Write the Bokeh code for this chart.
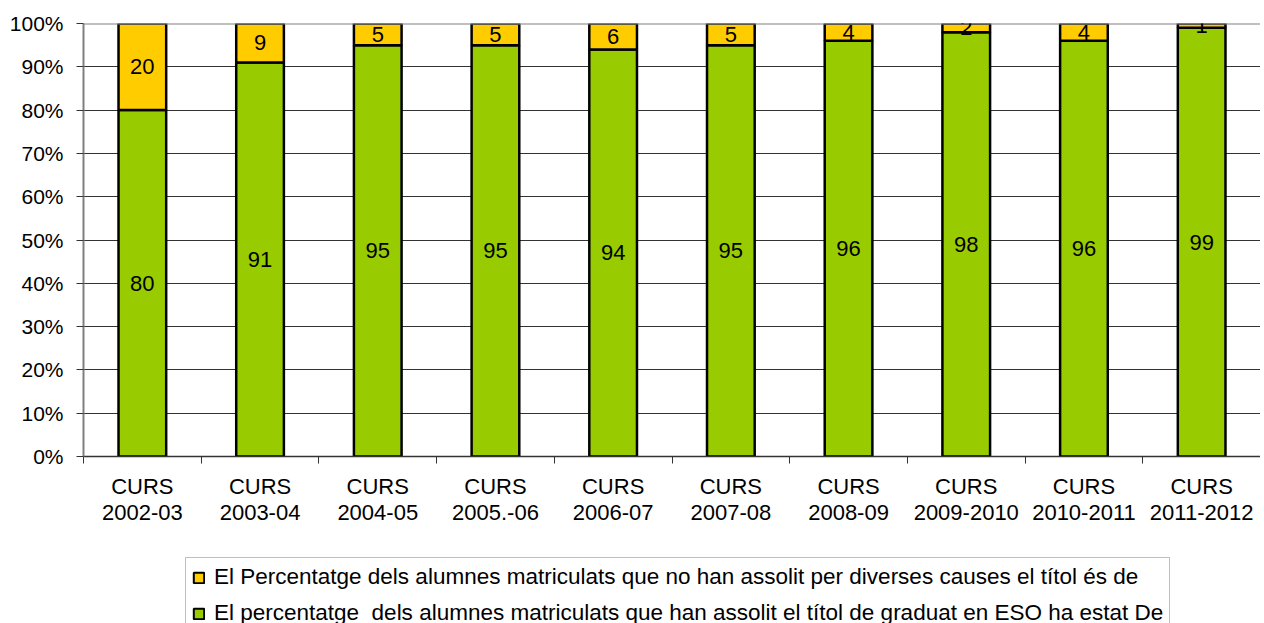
from bokeh.plotting import figure
from bokeh.layouts import column
from bokeh.models import (ColumnDataSource, Range1d, LinearAxis, Span,
                          FixedTicker, PrintfTickFormatter, Legend, LegendItem, LabelSet)
from bokeh.core.properties import value
from bokeh.embed import file_html
from bokeh.resources import INLINE

categories = ["CURS\n2002-03", "CURS\n2003-04", "CURS\n2004-05", "CURS\n2005.-06", "CURS\n2006-07",
              "CURS\n2007-08", "CURS\n2008-09", "CURS\n2009-2010", "CURS\n2010-2011", "CURS\n2011-2012"]
graduats = [80, 91, 95, 95, 94, 95, 96, 98, 96, 99]
no_graduats = [20, 9, 5, 5, 6, 5, 4, 2, 4, 1]
y_ticks = [0, 10, 20, 30, 40, 50, 60, 70, 80, 90, 100]
label_no = "El Percentatge dels alumnes matriculats que no han assolit per diverses causes el títol és de"
label_si = "El percentatge  dels alumnes matriculats que han assolit el títol de graduat en ESO ha estat De"

FONT = "Liberation Sans"
GREEN = "#99CC00"
YELLOW = "#FFCC00"

n = len(categories)
centers = [i + 0.5 for i in range(n)]
bounds = list(range(n + 1))

src = ColumnDataSource(dict(
    x=centers,
    graduats=graduats,
    no_graduats=no_graduats,
    g_mid=[g / 2 for g in graduats],
    n_mid=[g + k / 2 for g, k in zip(graduats, no_graduats)],
    g_txt=[str(v) for v in graduats],
    n_txt=[str(v) for v in no_graduats],
))

W = 1260
p = figure(x_range=Range1d(0, n), y_range=Range1d(0, 100),
           width=W, height=531, output_backend="svg", toolbar_location=None,
           x_axis_location=None, min_border_left=83, min_border_top=23,
           min_border_right=0, min_border_bottom=75)

p.outline_line_color = None
p.background_fill_color = "white"
p.border_fill_color = "white"

# y axis
p.yaxis.ticker = FixedTicker(ticks=y_ticks)
p.yaxis.formatter = PrintfTickFormatter(format="%d%%")
p.yaxis.major_label_text_font = FONT
p.yaxis.major_label_text_font_size = "21px"
p.yaxis.major_label_text_color = "black"
p.yaxis.axis_line_color = "#808080"
p.yaxis.axis_line_width = 2
p.yaxis.major_tick_out = 7
p.yaxis.major_tick_in = 0
p.yaxis.major_tick_line_color = "#333333"
p.yaxis.minor_tick_line_color = None
p.yaxis.major_label_standoff = 13

p.xgrid.grid_line_color = None
p.ygrid.ticker = FixedTicker(ticks=y_ticks[1:-1])
p.ygrid.grid_line_color = "#333333"
p.ygrid.grid_line_width = 1

p.add_layout(Span(location=y_ticks[-1], dimension="width", line_color="#808080", line_width=2))

# category axis: labels at centres, tick marks at boundaries
cat_axis = LinearAxis(ticker=FixedTicker(ticks=centers, minor_ticks=bounds),
                      major_label_overrides={c: lab for c, lab in zip(centers, categories)},
                      major_tick_line_color=None, major_tick_out=7, major_tick_in=0,
                      minor_tick_line_color="#333333", minor_tick_out=7, minor_tick_in=0,
                      axis_line_color="#333333", axis_line_width=1.5,
                      major_label_text_font=FONT, major_label_text_font_size="22px",
                      major_label_text_color="black", major_label_text_line_height=1.05,
                      major_label_standoff=10)
p.add_layout(cat_axis, "below")

rs = p.vbar_stack(["graduats", "no_graduats"], x="x", width=0.405, source=src,
                  fill_color=[GREEN, YELLOW], line_color="black", line_width=2.5)

for ycol, tcol in (("g_mid", "g_txt"), ("n_mid", "n_txt")):
    p.add_layout(LabelSet(x="x", y=ycol, text=tcol, source=src, text_align="center",
                          text_baseline="middle", text_font=value(FONT), text_font_size="22px",
                          text_color="black"))

# legend figure below the chart
p2 = figure(x_range=Range1d(0, 1), y_range=Range1d(0, 1), width=W, height=92,
            output_backend="svg", toolbar_location=None,
            x_axis_location=None, y_axis_location=None,
            min_border=0, min_border_left=0, min_border_right=0, min_border_top=0, min_border_bottom=0)
p2.outline_line_color = None
p2.grid.grid_line_color = None
p2.background_fill_color = "white"
p2.border_fill_color = "white"

# hidden renderers that only supply the legend swatches
r_no = p2.vbar(x="x", top="no_graduats", width=0.1, source=src, fill_color=YELLOW,
               line_color="black", line_width=2, visible=False)
r_si = p2.vbar(x="x", top="graduats", width=0.1, source=src, fill_color=GREEN,
               line_color="black", line_width=2, visible=False)

legend = Legend(items=[LegendItem(label=label_no, renderers=[r_no]),
                       LegendItem(label=label_si, renderers=[r_si])],
                location=(102, -10), orientation="vertical",
                label_text_font=FONT, label_text_font_size="22.5px", label_text_color="black",
                label_height=20, label_standoff=9, glyph_width=13, glyph_height=13,
                padding=6, spacing=10, margin=0,
                border_line_color="#808080", border_line_width=1.5,
                background_fill_color="white", background_fill_alpha=1)
p2.add_layout(legend, "center")

layout = column(p, p2, spacing=0)
open("out.html", "w").write(file_html(layout, INLINE))
